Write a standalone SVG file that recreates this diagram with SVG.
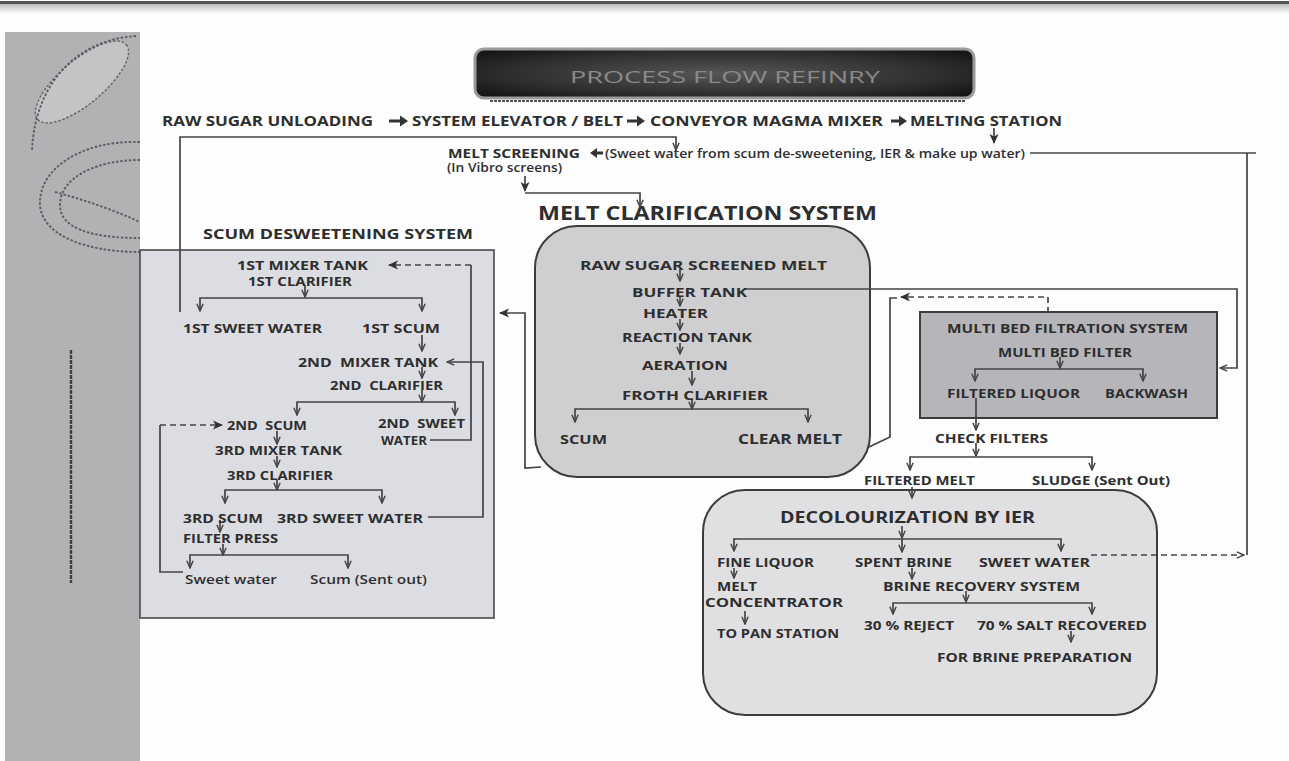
<svg xmlns="http://www.w3.org/2000/svg" width="1289" height="761" viewBox="0 0 1289 761">
<defs>
  <linearGradient id="topFade" x1="0" y1="0" x2="0" y2="1">
    <stop offset="0" stop-color="#bdbdbd"/>
    <stop offset="1" stop-color="#ffffff"/>
  </linearGradient>
  <radialGradient id="titleFill" cx="0.5" cy="0.5" r="0.65">
    <stop offset="0" stop-color="#575757"/>
    <stop offset="0.7" stop-color="#2c2c2c"/>
    <stop offset="1" stop-color="#141414"/>
  </radialGradient>
  <marker id="open" viewBox="0 0 10 10" refX="9" refY="5" markerWidth="9" markerHeight="9" markerUnits="userSpaceOnUse" orient="auto-start-reverse">
    <path d="M1,1.5 L9,5 L1,8.5" fill="none" stroke="#444" stroke-width="1.6"/>
  </marker>
  <marker id="solid" viewBox="0 0 10 10" refX="9" refY="5" markerWidth="10" markerHeight="10" markerUnits="userSpaceOnUse" orient="auto-start-reverse">
    <path d="M0,0.5 L10,5 L0,9.5 L2.5,5 Z" fill="#333"/>
  </marker>
  <style>
    .t { font-family: "Open Sans", "Liberation Sans", sans-serif; font-weight: 700; fill: #2e2e2e; font-size: 12.5px; }
    .s11 { font-size: 11.5px; }
    .s12 { font-size: 12px; }
    .s14 { font-size: 14.5px; }
    .s15 { font-size: 15px; }
    .s16 { font-size: 16px; }
    .s19 { font-size: 19px; }
    .lc { font-weight: 600; }
    .ln { fill: none; stroke: #444; stroke-width: 1.7; }
    .dsh { stroke-dasharray: 6 4; }
    .dn { marker-end: url(#open); }
    .br { marker-start: url(#open); marker-end: url(#open); }
    .fa { marker-end: url(#solid); }
    .blk { fill: #333; }
    .box { stroke: #3c3c3c; stroke-width: 2; }
    .deco { fill: none; stroke: #5c5c60; stroke-width: 1.9; stroke-dasharray: 2.5 1.8; }
  </style>
</defs>

<!-- page -->
<rect x="0" y="0" width="1289" height="761" fill="#fdfdfd"/>
<rect x="0" y="1" width="1289" height="3" fill="#555"/>
<rect x="0" y="4" width="1289" height="10" fill="url(#topFade)"/>

<!-- left decorative strip -->
<g id="side-strip">
  <rect x="5" y="32" width="135" height="729" fill="#b2b2b4"/>
  <ellipse cx="82" cy="82" rx="58" ry="22" transform="rotate(-40 82 82)" fill="#c4c4c6" stroke="#68686b" stroke-width="1.5" stroke-dasharray="2.5 1.8"/>
  <path class="deco" d="M136,36 C75,40 35,85 32,150"/>
  <path class="deco" d="M140,142 C80,140 38,170 40,205 C42,235 85,252 140,252"/>
  <path class="deco" d="M140,160 C95,160 60,178 60,205 C60,228 90,238 140,238"/>
  <path class="deco" d="M55,192 Q100,204 140,222"/>
  <line x1="71" y1="350" x2="71" y2="583" stroke="#3f3f42" stroke-width="2.4" stroke-dasharray="4 1"/>
</g>

<!-- title banner -->
<g id="title">
  <rect x="475" y="49" width="499" height="49" rx="9" fill="url(#titleFill)" stroke="#9a9a9a" stroke-width="3"/>
  <line x1="490" y1="101" x2="966" y2="101" stroke="#555" stroke-width="2" stroke-dasharray="3 1"/>
  <text class="t" x="570" y="83" style="font-size:17px;font-weight:400;fill:#8a8a8a" textLength="310" lengthAdjust="spacingAndGlyphs">PROCESS FLOW REFINRY</text>
</g>

<!-- system boxes -->
<g id="scum-desweetening-system">
  <rect x="140" y="250" width="354" height="368" fill="#dcdde2" stroke="#4a4a4a" stroke-width="1.6"/>
  <text class="t s14" x="203" y="239" textLength="270" lengthAdjust="spacingAndGlyphs">SCUM DESWEETENING SYSTEM</text>
</g>
<g id="melt-clarification-system">
  <rect class="box" x="535" y="226" width="335" height="251" rx="42" fill="#cfcfd2"/>
  <text class="t s19" x="538" y="220" textLength="339" lengthAdjust="spacingAndGlyphs">MELT CLARIFICATION SYSTEM</text>
</g>
<g id="multi-bed-filtration-system">
  <rect class="box" x="920" y="312" width="297" height="106" fill="#b6b6ba"/>
  <text class="t s12" x="947" y="333" textLength="241" lengthAdjust="spacingAndGlyphs">MULTI BED FILTRATION SYSTEM</text>
</g>
<g id="decolourization-by-ier">
  <rect class="box" x="703" y="490" width="454" height="225" rx="42" fill="#e0e0e2" stroke="#555"/>
  <text class="t s16" x="780" y="523" textLength="255" lengthAdjust="spacingAndGlyphs">DECOLOURIZATION BY IER</text>
</g>

<!-- connectors -->
<g id="connectors">
  <!-- main feed line arrows -->
  <path class="blk" d="M389,119.5 H400 V115.5 L408,121 L400,126.5 V122.5 H389 Z"/>
  <path class="blk" d="M627,119.5 H637 V115.5 L645,121 L637,126.5 V122.5 H627 Z"/>
  <path class="blk" d="M891,119.5 H899 V115.5 L907,121 L899,126.5 V122.5 H891 Z"/>
  <path class="ln fa" d="M994,128 V143"/>
  <path class="blk" d="M603,151.5 H597 V148 L590,153 L597,158 V154.5 H603 Z"/>
  <!-- sweet water return line -->
  <path class="ln" d="M1030,153 H1256"/>
  <path class="ln" d="M1247,153 V555"/>
  <path class="ln dsh dn" d="M1091,555 H1244"/>
  <!-- 1st sweet water to melt screening -->
  <path class="ln dn" d="M180,312 V137 H676 V150"/>
  <!-- melt screening to clarification -->
  <path class="ln fa" d="M525,176 V191"/>
  <path class="ln dn" d="M525,193 H640 V207"/>

  <!-- scum desweetening -->
  <path class="ln dn" d="M305,285 V297"/>
  <path class="ln br" d="M200,311 V298 H422 V311"/>
  <path class="ln dn" d="M422,335 V351"/>
  <path class="ln dn" d="M422,367 V378"/>
  <path class="ln dn" d="M422,390 V402"/>
  <path class="ln br" d="M297,415 V402 H455 V415"/>
  <path class="ln dn" d="M277,431 V444"/>
  <path class="ln dn" d="M277,456 V467"/>
  <path class="ln dn" d="M277,480 V490"/>
  <path class="ln br" d="M225,503 V490 H382 V503"/>
  <path class="ln dn" d="M220,520 V532"/>
  <path class="ln dn" d="M223,544 V555"/>
  <path class="ln br" d="M190,568 V555 H348 V568"/>
  <path class="ln" d="M430,440 H471 V265"/>
  <path class="ln dsh fa" d="M471,265 H389"/>
  <path class="ln dn" d="M428,517 H483 V362 H447"/>
  <path class="ln" d="M183,572 H160 V425"/>
  <path class="ln dsh fa" d="M160,425 H222"/>

  <!-- melt clarification -->
  <path class="ln dn" d="M680,269 V281"/>
  <path class="ln dn" d="M680,296 V306"/>
  <path class="ln dn" d="M680,319 V330"/>
  <path class="ln dn" d="M680,343 V354"/>
  <path class="ln dn" d="M692,371 V385"/>
  <path class="ln dn" d="M692,399 V409"/>
  <path class="ln br" d="M575,422 V409 H808 V422"/>
  <path class="ln fa" d="M541,467 L525,468 V313 H500"/>
  <path class="ln" d="M869,447 L890,437 V298 H897"/>
  <path class="ln dsh fa" d="M1048,313 V297 H901"/>
  <path class="ln dn" d="M745,289 H1237 V368 H1220"/>

  <!-- multi bed filtration -->
  <path class="ln dn" d="M1060,357 V368"/>
  <path class="ln br" d="M975,381 V369 H1143 V381"/>
  <path class="ln dn" d="M976,398 V430"/>
  <path class="ln dn" d="M976,443 V456"/>
  <path class="ln br" d="M910,470 V457 H1092 V470"/>
  <path class="ln dn" d="M912,487 V498"/>

  <!-- decolourization -->
  <path class="ln dn" d="M902,526 V538"/>
  <path class="ln br" d="M734,551 V539 H1061 V551"/>
  <path class="ln dn" d="M902,539 V552"/>
  <path class="ln dn" d="M734,568 V578"/>
  <path class="ln dn" d="M745,611 V624"/>
  <path class="ln dn" d="M912,568 V579"/>
  <path class="ln dn" d="M966,591 V602"/>
  <path class="ln br" d="M893,614 V603 H1092 V614"/>
  <path class="ln dn" d="M1071,631 V642"/>
</g>

<!-- feed line nodes -->
<g id="raw-sugar-unloading"><text class="t s14" x="162" y="126" textLength="211" lengthAdjust="spacingAndGlyphs">RAW SUGAR UNLOADING</text></g>
<g id="system-elevator"><text class="t s14" x="412" y="126" textLength="211" lengthAdjust="spacingAndGlyphs">SYSTEM ELEVATOR / BELT</text></g>
<g id="magma-mixer"><text class="t s14" x="650" y="126" textLength="233" lengthAdjust="spacingAndGlyphs">CONVEYOR MAGMA MIXER</text></g>
<g id="melting-station"><text class="t s14" x="910" y="126" textLength="152" lengthAdjust="spacingAndGlyphs">MELTING STATION</text></g>
<g id="melt-screening">
  <text class="t" x="448" y="157.5" textLength="132" lengthAdjust="spacingAndGlyphs">MELT SCREENING</text>
  <text class="t s12 lc" x="447" y="172" textLength="115" lengthAdjust="spacingAndGlyphs">(In Vibro screens)</text>
</g>
<g id="sweet-water-makeup"><text class="t lc" x="605" y="157.5" textLength="420" lengthAdjust="spacingAndGlyphs">(Sweet water from scum de-sweetening, IER &amp; make up water)</text></g>

<!-- scum desweetening nodes -->
<g id="mixer-tank-1"><text class="t" x="237" y="269.5" textLength="131" lengthAdjust="spacingAndGlyphs">1ST MIXER TANK</text></g>
<g id="clarifier-1"><text class="t" x="248" y="285.5" textLength="104" lengthAdjust="spacingAndGlyphs">1ST CLARIFIER</text></g>
<g id="sweet-water-1"><text class="t" x="183" y="332.5" textLength="139" lengthAdjust="spacingAndGlyphs">1ST SWEET WATER</text></g>
<g id="scum-1"><text class="t" x="362" y="332.5" textLength="78" lengthAdjust="spacingAndGlyphs">1ST SCUM</text></g>
<g id="mixer-tank-2"><text class="t" x="298" y="366.5" textLength="140" lengthAdjust="spacingAndGlyphs" xml:space="preserve">2ND  MIXER TANK</text></g>
<g id="clarifier-2"><text class="t" x="330" y="389.5" textLength="113" lengthAdjust="spacingAndGlyphs" xml:space="preserve">2ND  CLARIFIER</text></g>
<g id="scum-2"><text class="t" x="227" y="429.5" textLength="80" lengthAdjust="spacingAndGlyphs" xml:space="preserve">2ND  SCUM</text></g>
<g id="sweet-water-2">
  <text class="t" x="378" y="427.5" textLength="87" lengthAdjust="spacingAndGlyphs" xml:space="preserve">2ND  SWEET</text>
  <text class="t" x="381" y="444.5" textLength="46" lengthAdjust="spacingAndGlyphs">WATER</text>
</g>
<g id="mixer-tank-3"><text class="t" x="215" y="454.5" textLength="127" lengthAdjust="spacingAndGlyphs">3RD MIXER TANK</text></g>
<g id="clarifier-3"><text class="t" x="227" y="479.5" textLength="106" lengthAdjust="spacingAndGlyphs">3RD CLARIFIER</text></g>
<g id="scum-3"><text class="t" x="183" y="522.5" textLength="80" lengthAdjust="spacingAndGlyphs">3RD SCUM</text></g>
<g id="sweet-water-3"><text class="t" x="277" y="522.5" textLength="146" lengthAdjust="spacingAndGlyphs">3RD SWEET WATER</text></g>
<g id="filter-press"><text class="t" x="183" y="542.5" textLength="95" lengthAdjust="spacingAndGlyphs">FILTER PRESS</text></g>
<g id="press-sweet-water"><text class="t lc" x="185" y="584" textLength="92" lengthAdjust="spacingAndGlyphs">Sweet water</text></g>
<g id="press-scum-out"><text class="t lc" x="310" y="584" textLength="117" lengthAdjust="spacingAndGlyphs">Scum (Sent out)</text></g>

<!-- melt clarification nodes -->
<g id="screened-melt"><text class="t" x="580" y="269.5" textLength="247" lengthAdjust="spacingAndGlyphs">RAW SUGAR SCREENED MELT</text></g>
<g id="buffer-tank"><text class="t" x="632" y="296.5" textLength="115" lengthAdjust="spacingAndGlyphs">BUFFER TANK</text></g>
<g id="heater"><text class="t" x="643" y="317.5" textLength="65" lengthAdjust="spacingAndGlyphs">HEATER</text></g>
<g id="reaction-tank"><text class="t" x="622" y="341.5" textLength="130" lengthAdjust="spacingAndGlyphs">REACTION TANK</text></g>
<g id="aeration"><text class="t" x="642" y="369.5" textLength="86" lengthAdjust="spacingAndGlyphs">AERATION</text></g>
<g id="froth-clarifier"><text class="t" x="622" y="399.5" textLength="146" lengthAdjust="spacingAndGlyphs">FROTH CLARIFIER</text></g>
<g id="clarifier-scum"><text class="t s11" x="560" y="444" textLength="47" lengthAdjust="spacingAndGlyphs">SCUM</text></g>
<g id="clear-melt"><text class="t s15" x="738" y="443.5" textLength="104" lengthAdjust="spacingAndGlyphs">CLEAR MELT</text></g>

<!-- multi bed filtration nodes -->
<g id="multi-bed-filter"><text class="t" x="998" y="356.5" textLength="134" lengthAdjust="spacingAndGlyphs">MULTI BED FILTER</text></g>
<g id="filtered-liquor"><text class="t" x="947" y="397.5" textLength="133" lengthAdjust="spacingAndGlyphs">FILTERED LIQUOR</text></g>
<g id="backwash"><text class="t" x="1105" y="397.5" textLength="83" lengthAdjust="spacingAndGlyphs">BACKWASH</text></g>
<g id="check-filters"><text class="t" x="935" y="442.5" textLength="113" lengthAdjust="spacingAndGlyphs">CHECK FILTERS</text></g>
<g id="filtered-melt"><text class="t" x="864" y="485" textLength="111" lengthAdjust="spacingAndGlyphs">FILTERED MELT</text></g>
<g id="sludge"><text class="t" x="1032" y="484.5" textLength="138" lengthAdjust="spacingAndGlyphs">SLUDGE (Sent Out)</text></g>

<!-- decolourization nodes -->
<g id="fine-liquor"><text class="t" x="717" y="566.5" textLength="97" lengthAdjust="spacingAndGlyphs">FINE LIQUOR</text></g>
<g id="spent-brine"><text class="t" x="855" y="566.5" textLength="97" lengthAdjust="spacingAndGlyphs">SPENT BRINE</text></g>
<g id="ier-sweet-water"><text class="t" x="979" y="566.5" textLength="111" lengthAdjust="spacingAndGlyphs">SWEET WATER</text></g>
<g id="melt-concentrator">
  <text class="t" x="717" y="590.5" textLength="40" lengthAdjust="spacingAndGlyphs">MELT</text>
  <text class="t" x="705" y="606.5" textLength="138" lengthAdjust="spacingAndGlyphs">CONCENTRATOR</text>
</g>
<g id="to-pan-station"><text class="t" x="717" y="637.5" textLength="122" lengthAdjust="spacingAndGlyphs">TO PAN STATION</text></g>
<g id="brine-recovery"><text class="t" x="883" y="590.5" textLength="197" lengthAdjust="spacingAndGlyphs">BRINE RECOVERY SYSTEM</text></g>
<g id="reject"><text class="t" x="864" y="629.5" textLength="90" lengthAdjust="spacingAndGlyphs">30 % REJECT</text></g>
<g id="salt-recovered"><text class="t" x="977" y="629.5" textLength="170" lengthAdjust="spacingAndGlyphs">70 % SALT RECOVERED</text></g>
<g id="brine-preparation"><text class="t" x="937" y="661.5" textLength="195" lengthAdjust="spacingAndGlyphs">FOR BRINE PREPARATION</text></g>
</svg>
